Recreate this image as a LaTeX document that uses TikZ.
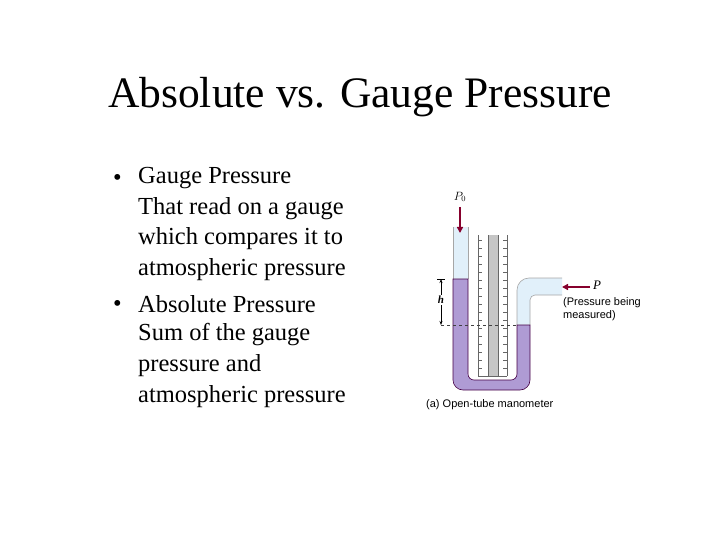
\documentclass[tikz,border=0pt]{standalone}
\usepackage{fontspec}
\setmainfont{Liberation Serif}
\newfontfamily\lsans{Liberation Sans}
\usetikzlibrary{arrows.meta}
\definecolor{liqc}{RGB}{175,155,212}
\definecolor{airc}{RGB}{225,240,250}
\begin{document}
\begin{tikzpicture}[x=1pt,y=-1pt,
  body/.style={anchor=west,font=\fontsize{24.5}{27}\selectfont,inner sep=0},
  lab/.style={font=\lsans\fontsize{11}{13}\selectfont,inner sep=0},
  liq/.style={fill=liqc,draw=violet!55!black,line width=0.6pt},
  parrow/.style={-{Triangle[length=6pt,width=6pt]},draw=purple!70!black,line width=1.8pt}]
\useasboundingbox (0,0) rectangle (720,540);
\node[font=\fontsize{43.5}{47}\selectfont,inner sep=0] (title) at (360,97) {Absolute vs. Gauge Pressure};
\node[body] (b1) at (113,180) {•};
\node[body] (t1) at (138,178) {Gauge Pressure};
\node[body] (t2) at (138,209) {That read on a gauge};
\node[body] (t3) at (138,239) {which compares it to};
\node[body] (t4) at (138,270) {atmospheric pressure};
\node[body] (b2) at (113,306) {•};
\node[body] (t5) at (138,304) {Absolute Pressure};
\node[body] (t6) at (138,335) {Sum of the gauge};
\node[body] (t7) at (138,366) {pressure and};
\node[body] (t8) at (138,397) {atmospheric pressure};
% air parts
\fill[airc] (453,227) rectangle (468,279);
\fill[airc] (517,325) [rounded corners=12] -- (517,278) [sharp corners] -- (562,278) -- (562,295) [rounded corners=5] -- (530,295) [sharp corners] -- (530,325) -- cycle;
\draw[gray!70,line width=0.6pt] (517,325) [rounded corners=12] -- (517,278) [sharp corners] -- (562,278);
\draw[gray!70,line width=0.6pt] (530,325) [rounded corners=5] -- (530,295) [sharp corners] -- (562,295);
\draw[gray!70,line width=0.6pt] (453,279) -- (453,227) (468,227) -- (468,279);
% liquid U
\path[liq] (453,279) [rounded corners=10] -- (453,390) -- (530,390) [sharp corners] -- (530,325) -- (517,325) [rounded corners=6] -- (517,380) -- (468,380) [sharp corners] -- (468,279) -- cycle;
% scale
\fill[gray!45] (488,235) rectangle (498,376);
\draw[gray!80!black,line width=0.5pt] (478,376) -- (507,376) (478,235) -- (478,376) (488,235) -- (488,376) (498,235) -- (498,376) (507,235) -- (507,376);
\foreach \y in {240,248,...,372}{\draw[gray!80!black,line width=0.4pt] (478,\y) -- (482,\y) (503,\y) -- (507,\y);}
% dashed, h
\draw[dashed,gray!50!black,line width=0.5pt] (441,325) -- (517,325);
\coordinate (h1) at (441,279); \coordinate (h2) at (441,325);
\draw[{Stealth[length=4pt]}-{Stealth[length=4pt]},line width=0.5pt] (h1) -- (h2);
\draw[line width=0.5pt] (437,279) -- (445,279);
\node[fill=white,inner sep=1pt,font=\bfseries\itshape\fontsize{11}{12}\selectfont] (h) at (441,300) {h};
% pressure arrows
\node[font=\itshape\fontsize{12}{14}\selectfont,inner sep=0] (P0) at (460,197) {$P_0$};
\coordinate (P0t) at (460,233);
\draw[parrow] (P0) ++(0,10) -- (P0t);
\node[font=\itshape\fontsize{13}{14}\selectfont,inner sep=0] (P) at (597,285) {P};
\coordinate (Pt) at (562,287);
\draw[parrow] (590,287) -- (Pt);
\node[lab,align=left,anchor=north west] (desc) at (563,297) {(Pressure being\\measured)};
\node[lab,anchor=west] (cap) at (426,405) {(a) Open-tube manometer};
\end{tikzpicture}
\end{document}
